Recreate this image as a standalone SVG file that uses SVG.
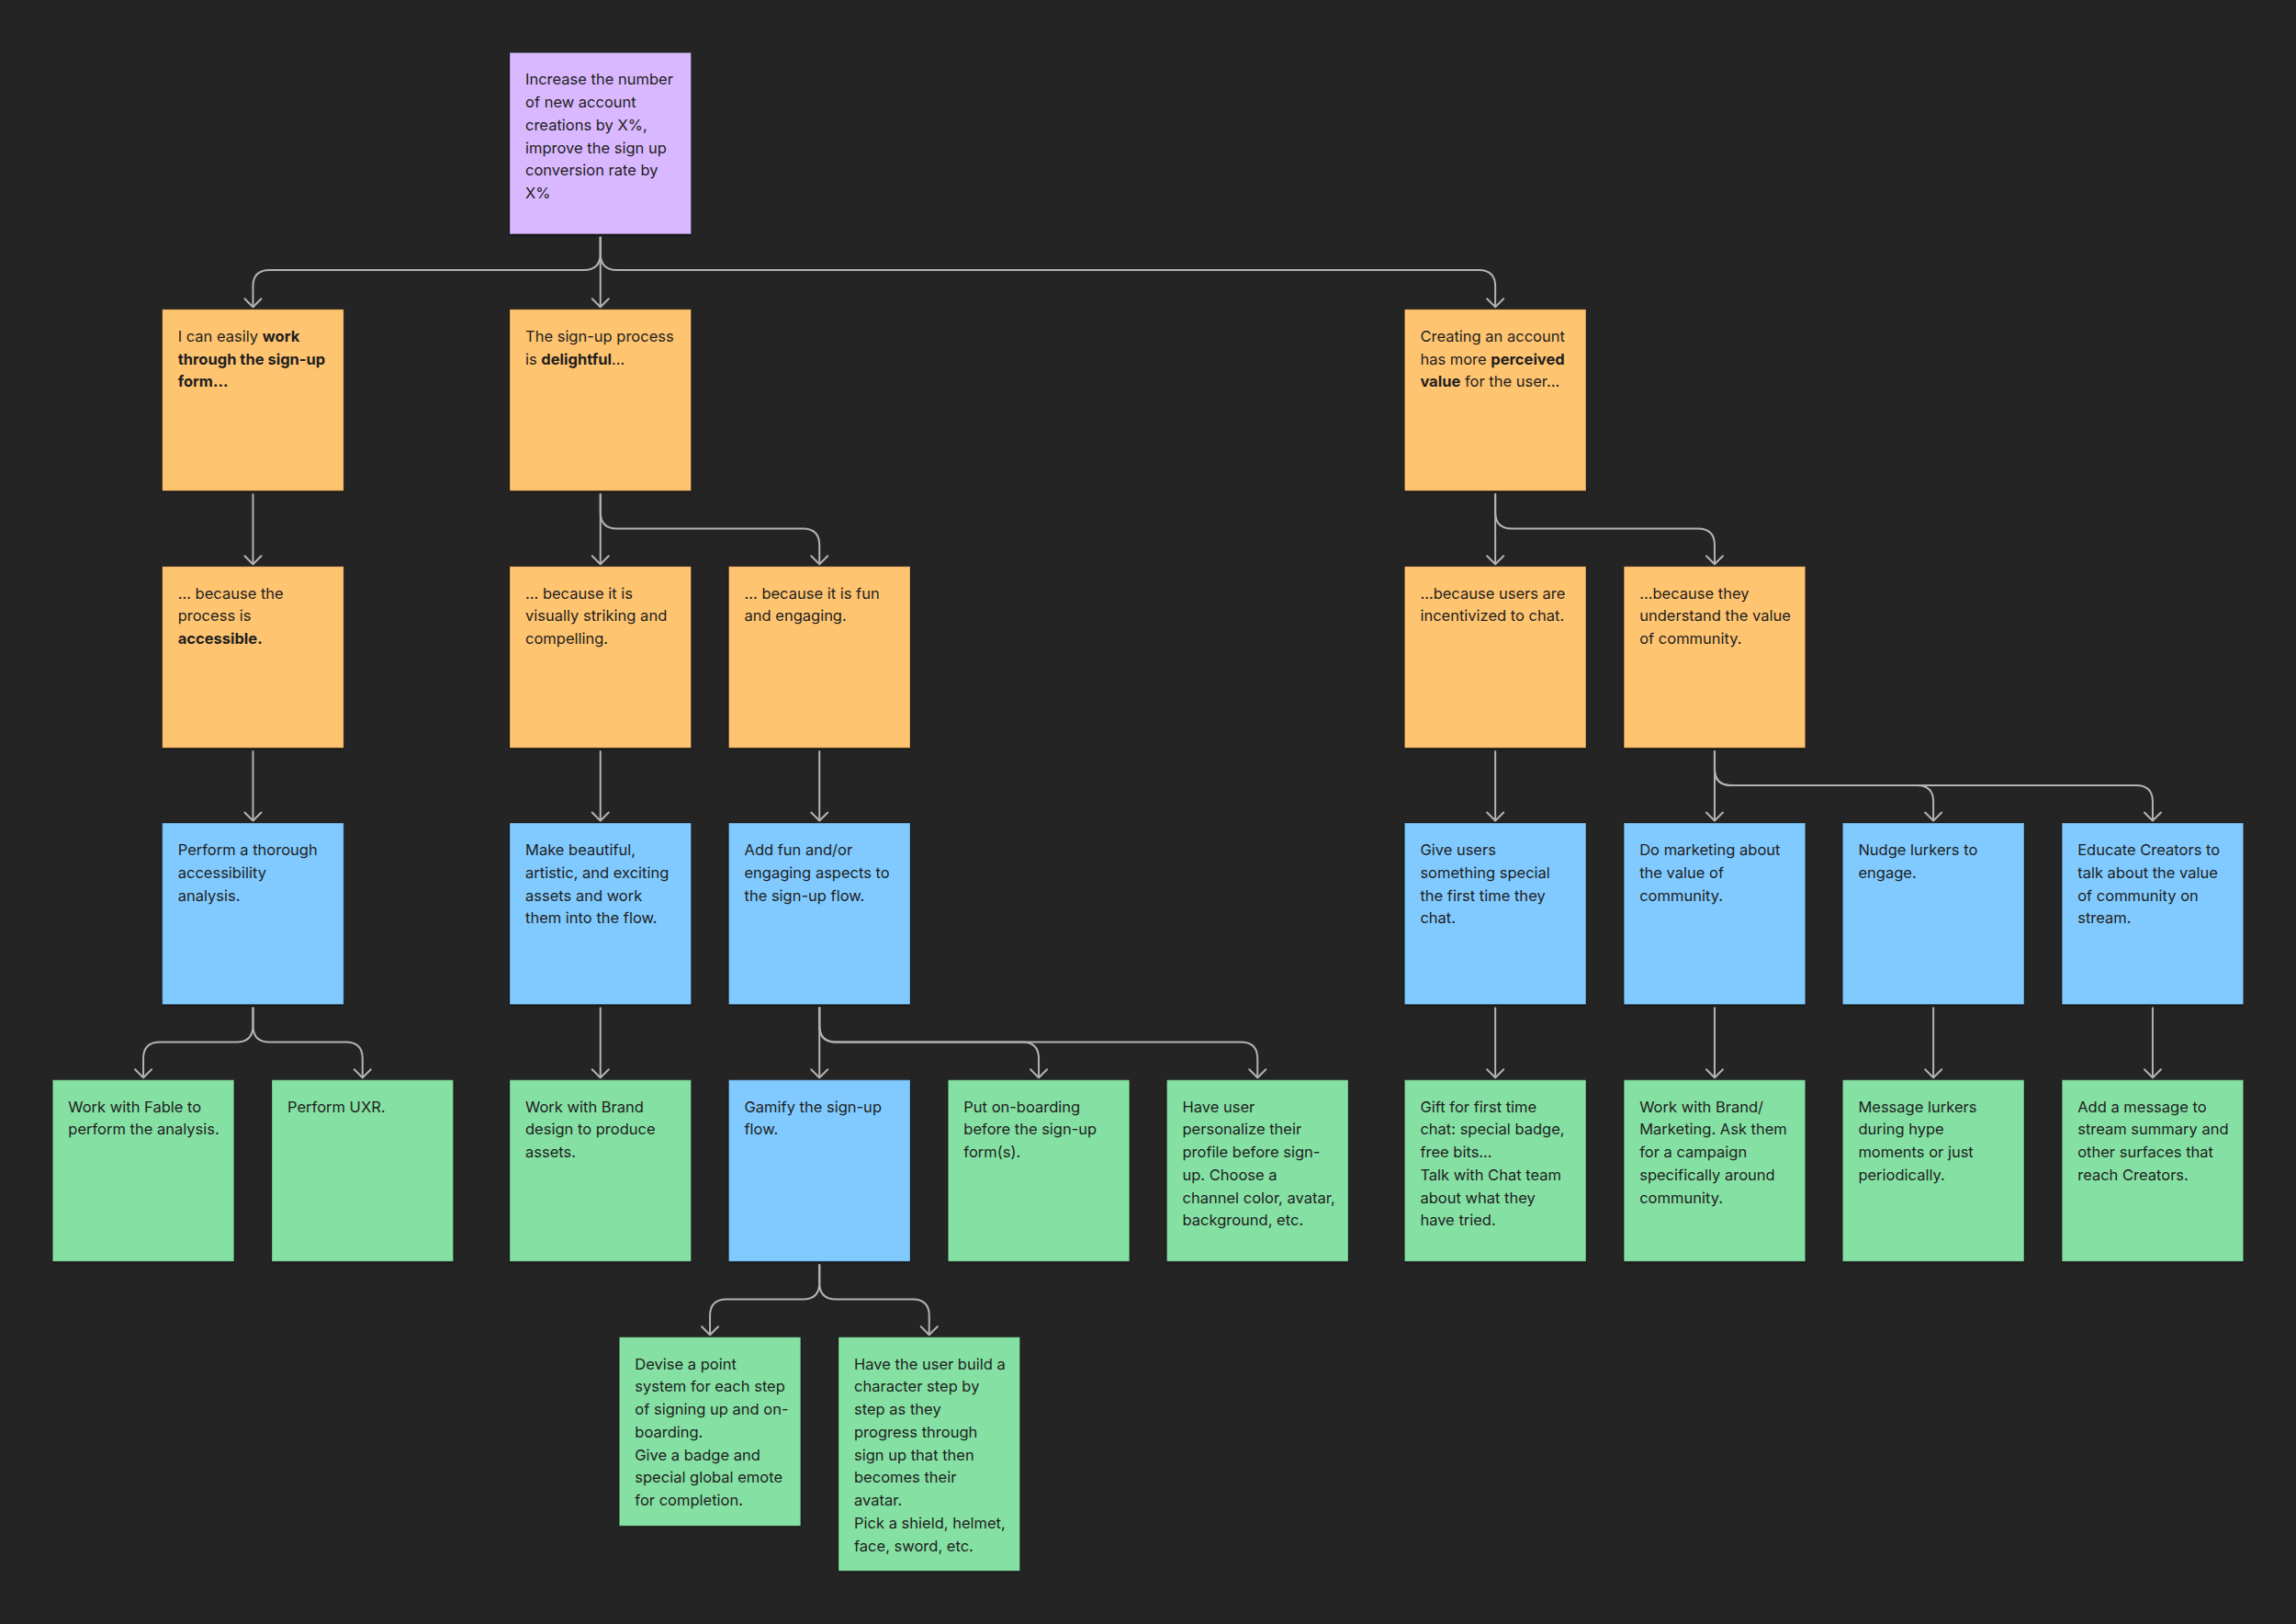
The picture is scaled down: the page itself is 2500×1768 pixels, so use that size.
<svg xmlns="http://www.w3.org/2000/svg" width="2500" height="1768" viewBox="0 0 2500 1768">
<style>
.bg{fill:#242424}
.n{stroke:rgba(0,0,0,0.25);stroke-width:1}
.violet{fill:#D9B8FF}
.orange{fill:#FFC470}
.blue{fill:#80CAFF}
.green{fill:#85E0A3}
.t{font-family:Inter,"Noto Sans","Liberation Sans",sans-serif;font-size:16.5px;fill:#1E1E1E}
.b{font-weight:700}
.c{fill:none;stroke:#B3B3B3;stroke-width:2;marker-end:url(#arr)}
</style>
<defs>
<filter id="sh" x="-5%" y="-5%" width="110%" height="112%">
<feDropShadow dx="0" dy="1.5" stdDeviation="1" flood-color="#000" flood-opacity="0.45"/>
</filter>
<marker id="arr" markerUnits="userSpaceOnUse" markerWidth="24" markerHeight="24" viewBox="-12 -12 24 24" refX="0" refY="0" orient="auto" overflow="visible">
<path d="M-9,-9 L0,0 L-9,9" fill="none" stroke="#B3B3B3" stroke-width="2" stroke-linecap="round" stroke-linejoin="round"/>
</marker>
</defs>
<rect class="bg" x="0" y="0" width="2500" height="1768"/>

<g id="connectors">
<!-- row0 -> row1 -->
<path class="c" d="M653.75,257.8 V276 Q653.75,294 635.75,294 H293.45 Q275.45,294 275.45,312 V334.3"/>
<path class="c" d="M653.75,257.8 V334.3"/>
<path class="c" d="M653.75,257.8 V276 Q653.75,294 671.75,294 H1610.15 Q1628.15,294 1628.15,312 V334.3"/>
<!-- row1 -> row2 -->
<path class="c" d="M275.45,537.3 V614.2"/>
<path class="c" d="M653.75,537.3 V614.2"/>
<path class="c" d="M653.75,537.3 V557.5 Q653.75,575.5 671.75,575.5 H874.25 Q892.25,575.5 892.25,593.5 V614.2"/>
<path class="c" d="M1628.15,537.3 V614.2"/>
<path class="c" d="M1628.15,537.3 V557.5 Q1628.15,575.5 1646.15,575.5 H1848.95 Q1866.95,575.5 1866.95,593.5 V614.2"/>
<!-- row2 -> row3 -->
<path class="c" d="M275.45,817.2 V893.5"/>
<path class="c" d="M653.75,817.2 V893.5"/>
<path class="c" d="M892.25,817.2 V893.5"/>
<path class="c" d="M1628.15,817.2 V893.5"/>
<path class="c" d="M1866.95,817.2 V893.5"/>
<path class="c" d="M1866.95,817.2 V837 Q1866.95,855 1884.95,855 H2087.15 Q2105.15,855 2105.15,873 V893.5"/>
<path class="c" d="M1866.95,817.2 V837 Q1866.95,855 1884.95,855 H2325.95 Q2343.95,855 2343.95,873 V893.5"/>
<!-- row3 -> row4 -->
<path class="c" d="M275.45,1096.5 V1116.6 Q275.45,1134.6 257.45,1134.6 H174.05 Q156.05,1134.6 156.05,1152.6 V1173.2"/>
<path class="c" d="M275.45,1096.5 V1116.6 Q275.45,1134.6 293.45,1134.6 H376.75 Q394.75,1134.6 394.75,1152.6 V1173.2"/>
<path class="c" d="M653.75,1096.5 V1173.2"/>
<path class="c" d="M892.25,1096.5 V1173.2"/>
<path class="c" d="M892.25,1096.5 V1116.6 Q892.25,1134.6 910.25,1134.6 H1113.05 Q1131.05,1134.6 1131.05,1152.6 V1173.2"/>
<path class="c" d="M892.25,1096.5 V1116.6 Q892.25,1134.6 910.25,1134.6 H1351.25 Q1369.25,1134.6 1369.25,1152.6 V1173.2"/>
<path class="c" d="M1628.15,1096.5 V1173.2"/>
<path class="c" d="M1866.95,1096.5 V1173.2"/>
<path class="c" d="M2105.15,1096.5 V1173.2"/>
<path class="c" d="M2343.95,1096.5 V1173.2"/>
<!-- row4 -> row5 -->
<path class="c" d="M892.25,1376.2 V1396.5 Q892.25,1414.5 874.25,1414.5 H791.05 Q773.05,1414.5 773.05,1432.5 V1453.2"/>
<path class="c" d="M892.25,1376.2 V1396.5 Q892.25,1414.5 910.25,1414.5 H993.75 Q1011.75,1414.5 1011.75,1432.5 V1453.2"/>
</g>

<g id="goal">
<rect class="n violet" filter="url(#sh)" x="555" y="57.3" width="197.5" height="197.5"/>
<text class="t" x="572" y="92.3"><tspan x="572">Increase the number</tspan><tspan x="572" dy="24.75">of new account</tspan><tspan x="572" dy="24.75">creations by X%,</tspan><tspan x="572" dy="24.75">improve the sign up</tspan><tspan x="572" dy="24.75">conversion rate by</tspan><tspan x="572" dy="24.75">X%</tspan></text>
</g>

<g id="easy-form">
<rect class="n orange" filter="url(#sh)" x="176.7" y="336.8" width="197.5" height="197.5"/>
<text class="t" x="193.7" y="371.8"><tspan x="193.7">I can easily <tspan class="b">work</tspan></tspan><tspan x="193.7" dy="24.75" class="b">through the sign-up</tspan><tspan x="193.7" dy="24.75" class="b">form...</tspan></text>
</g>
<g id="delightful">
<rect class="n orange" filter="url(#sh)" x="555" y="336.8" width="197.5" height="197.5"/>
<text class="t" x="572" y="371.8"><tspan x="572">The sign-up process</tspan><tspan x="572" dy="24.75">is <tspan class="b">delightful</tspan>...</tspan></text>
</g>
<g id="perceived-value">
<rect class="n orange" filter="url(#sh)" x="1529.4" y="336.8" width="197.5" height="197.5"/>
<text class="t" x="1546.4" y="371.8"><tspan x="1546.4">Creating an account</tspan><tspan x="1546.4" dy="24.75">has more <tspan class="b">perceived</tspan></tspan><tspan x="1546.4" dy="24.75"><tspan class="b">value</tspan> for the user...</tspan></text>
</g>

<g id="accessible">
<rect class="n orange" filter="url(#sh)" x="176.7" y="616.7" width="197.5" height="197.5"/>
<text class="t" x="193.7" y="651.7"><tspan x="193.7">... because the</tspan><tspan x="193.7" dy="24.75">process is</tspan><tspan x="193.7" dy="24.75" class="b">accessible.</tspan></text>
</g>
<g id="visually-striking">
<rect class="n orange" filter="url(#sh)" x="555" y="616.7" width="197.5" height="197.5"/>
<text class="t" x="572" y="651.7"><tspan x="572">... because it is</tspan><tspan x="572" dy="24.75">visually striking and</tspan><tspan x="572" dy="24.75">compelling.</tspan></text>
</g>
<g id="fun-engaging">
<rect class="n orange" filter="url(#sh)" x="793.5" y="616.7" width="197.5" height="197.5"/>
<text class="t" x="810.5" y="651.7"><tspan x="810.5">... because it is fun</tspan><tspan x="810.5" dy="24.75">and engaging.</tspan></text>
</g>
<g id="incentivized">
<rect class="n orange" filter="url(#sh)" x="1529.4" y="616.7" width="197.5" height="197.5"/>
<text class="t" x="1546.4" y="651.7"><tspan x="1546.4">...because users are</tspan><tspan x="1546.4" dy="24.75">incentivized to chat.</tspan></text>
</g>
<g id="value-community">
<rect class="n orange" filter="url(#sh)" x="1768.2" y="616.7" width="197.5" height="197.5"/>
<text class="t" x="1785.2" y="651.7"><tspan x="1785.2">...because they</tspan><tspan x="1785.2" dy="24.75">understand the value</tspan><tspan x="1785.2" dy="24.75">of community.</tspan></text>
</g>

<g id="accessibility-analysis">
<rect class="n blue" filter="url(#sh)" x="176.7" y="896" width="197.5" height="197.5"/>
<text class="t" x="193.7" y="931"><tspan x="193.7">Perform a thorough</tspan><tspan x="193.7" dy="24.75">accessibility</tspan><tspan x="193.7" dy="24.75">analysis.</tspan></text>
</g>
<g id="beautiful-assets">
<rect class="n blue" filter="url(#sh)" x="555" y="896" width="197.5" height="197.5"/>
<text class="t" x="572" y="931"><tspan x="572">Make beautiful,</tspan><tspan x="572" dy="24.75">artistic, and exciting</tspan><tspan x="572" dy="24.75">assets and work</tspan><tspan x="572" dy="24.75">them into the flow.</tspan></text>
</g>
<g id="add-fun">
<rect class="n blue" filter="url(#sh)" x="793.5" y="896" width="197.5" height="197.5"/>
<text class="t" x="810.5" y="931"><tspan x="810.5">Add fun and/or</tspan><tspan x="810.5" dy="24.75">engaging aspects to</tspan><tspan x="810.5" dy="24.75">the sign-up flow.</tspan></text>
</g>
<g id="something-special">
<rect class="n blue" filter="url(#sh)" x="1529.4" y="896" width="197.5" height="197.5"/>
<text class="t" x="1546.4" y="931"><tspan x="1546.4">Give users</tspan><tspan x="1546.4" dy="24.75">something special</tspan><tspan x="1546.4" dy="24.75">the first time they</tspan><tspan x="1546.4" dy="24.75">chat.</tspan></text>
</g>
<g id="marketing">
<rect class="n blue" filter="url(#sh)" x="1768.2" y="896" width="197.5" height="197.5"/>
<text class="t" x="1785.2" y="931"><tspan x="1785.2">Do marketing about</tspan><tspan x="1785.2" dy="24.75">the value of</tspan><tspan x="1785.2" dy="24.75">community.</tspan></text>
</g>
<g id="nudge-lurkers">
<rect class="n blue" filter="url(#sh)" x="2006.4" y="896" width="197.5" height="197.5"/>
<text class="t" x="2023.4" y="931"><tspan x="2023.4">Nudge lurkers to</tspan><tspan x="2023.4" dy="24.75">engage.</tspan></text>
</g>
<g id="educate-creators">
<rect class="n blue" filter="url(#sh)" x="2245.2" y="896" width="197.5" height="197.5"/>
<text class="t" x="2262.2" y="931"><tspan x="2262.2">Educate Creators to</tspan><tspan x="2262.2" dy="24.75">talk about the value</tspan><tspan x="2262.2" dy="24.75">of community on</tspan><tspan x="2262.2" dy="24.75">stream.</tspan></text>
</g>

<g id="fable">
<rect class="n green" filter="url(#sh)" x="57.3" y="1175.7" width="197.5" height="197.5"/>
<text class="t" x="74.3" y="1210.7"><tspan x="74.3">Work with Fable to</tspan><tspan x="74.3" dy="24.75">perform the analysis.</tspan></text>
</g>
<g id="uxr">
<rect class="n green" filter="url(#sh)" x="296" y="1175.7" width="197.5" height="197.5"/>
<text class="t" x="313" y="1210.7"><tspan x="313">Perform UXR.</tspan></text>
</g>
<g id="brand-design">
<rect class="n green" filter="url(#sh)" x="555" y="1175.7" width="197.5" height="197.5"/>
<text class="t" x="572" y="1210.7"><tspan x="572">Work with Brand</tspan><tspan x="572" dy="24.75">design to produce</tspan><tspan x="572" dy="24.75">assets.</tspan></text>
</g>
<g id="gamify">
<rect class="n blue" filter="url(#sh)" x="793.5" y="1175.7" width="197.5" height="197.5"/>
<text class="t" x="810.5" y="1210.7"><tspan x="810.5">Gamify the sign-up</tspan><tspan x="810.5" dy="24.75">flow.</tspan></text>
</g>
<g id="onboarding-first">
<rect class="n green" filter="url(#sh)" x="1032.3" y="1175.7" width="197.5" height="197.5"/>
<text class="t" x="1049.3" y="1210.7"><tspan x="1049.3">Put on-boarding</tspan><tspan x="1049.3" dy="24.75">before the sign-up</tspan><tspan x="1049.3" dy="24.75">form(s).</tspan></text>
</g>
<g id="personalize">
<rect class="n green" filter="url(#sh)" x="1270.5" y="1175.7" width="197.5" height="197.5"/>
<text class="t" x="1287.5" y="1210.7"><tspan x="1287.5">Have user</tspan><tspan x="1287.5" dy="24.75">personalize their</tspan><tspan x="1287.5" dy="24.75">profile before sign-</tspan><tspan x="1287.5" dy="24.75">up. Choose a</tspan><tspan x="1287.5" dy="24.75">channel color, avatar,</tspan><tspan x="1287.5" dy="24.75">background, etc.</tspan></text>
</g>
<g id="first-chat-gift">
<rect class="n green" filter="url(#sh)" x="1529.4" y="1175.7" width="197.5" height="197.5"/>
<text class="t" x="1546.4" y="1210.7"><tspan x="1546.4">Gift for first time</tspan><tspan x="1546.4" dy="24.75">chat: special badge,</tspan><tspan x="1546.4" dy="24.75">free bits...</tspan><tspan x="1546.4" dy="24.75">Talk with Chat team</tspan><tspan x="1546.4" dy="24.75">about what they</tspan><tspan x="1546.4" dy="24.75">have tried.</tspan></text>
</g>
<g id="brand-marketing">
<rect class="n green" filter="url(#sh)" x="1768.2" y="1175.7" width="197.5" height="197.5"/>
<text class="t" x="1785.2" y="1210.7"><tspan x="1785.2">Work with Brand/</tspan><tspan x="1785.2" dy="24.75">Marketing. Ask them</tspan><tspan x="1785.2" dy="24.75">for a campaign</tspan><tspan x="1785.2" dy="24.75">specifically around</tspan><tspan x="1785.2" dy="24.75">community.</tspan></text>
</g>
<g id="message-lurkers">
<rect class="n green" filter="url(#sh)" x="2006.4" y="1175.7" width="197.5" height="197.5"/>
<text class="t" x="2023.4" y="1210.7"><tspan x="2023.4">Message lurkers</tspan><tspan x="2023.4" dy="24.75">during hype</tspan><tspan x="2023.4" dy="24.75">moments or just</tspan><tspan x="2023.4" dy="24.75">periodically.</tspan></text>
</g>
<g id="stream-summary">
<rect class="n green" filter="url(#sh)" x="2245.2" y="1175.7" width="197.5" height="197.5"/>
<text class="t" x="2262.2" y="1210.7"><tspan x="2262.2">Add a message to</tspan><tspan x="2262.2" dy="24.75">stream summary and</tspan><tspan x="2262.2" dy="24.75">other surfaces that</tspan><tspan x="2262.2" dy="24.75">reach Creators.</tspan></text>
</g>

<g id="point-system">
<rect class="n green" filter="url(#sh)" x="674.3" y="1455.7" width="197.5" height="205.5"/>
<text class="t" x="691.3" y="1490.7"><tspan x="691.3">Devise a point</tspan><tspan x="691.3" dy="24.75">system for each step</tspan><tspan x="691.3" dy="24.75">of signing up and on-</tspan><tspan x="691.3" dy="24.75">boarding.</tspan><tspan x="691.3" dy="24.75">Give a badge and</tspan><tspan x="691.3" dy="24.75">special global emote</tspan><tspan x="691.3" dy="24.75">for completion.</tspan></text>
</g>
<g id="build-character">
<rect class="n green" filter="url(#sh)" x="913" y="1455.7" width="197.5" height="254.5"/>
<text class="t" x="930" y="1490.7"><tspan x="930">Have the user build a</tspan><tspan x="930" dy="24.75">character step by</tspan><tspan x="930" dy="24.75">step as they</tspan><tspan x="930" dy="24.75">progress through</tspan><tspan x="930" dy="24.75">sign up that then</tspan><tspan x="930" dy="24.75">becomes their</tspan><tspan x="930" dy="24.75">avatar.</tspan><tspan x="930" dy="24.75">Pick a shield, helmet,</tspan><tspan x="930" dy="24.75">face, sword, etc.</tspan></text>
</g>
</svg>
